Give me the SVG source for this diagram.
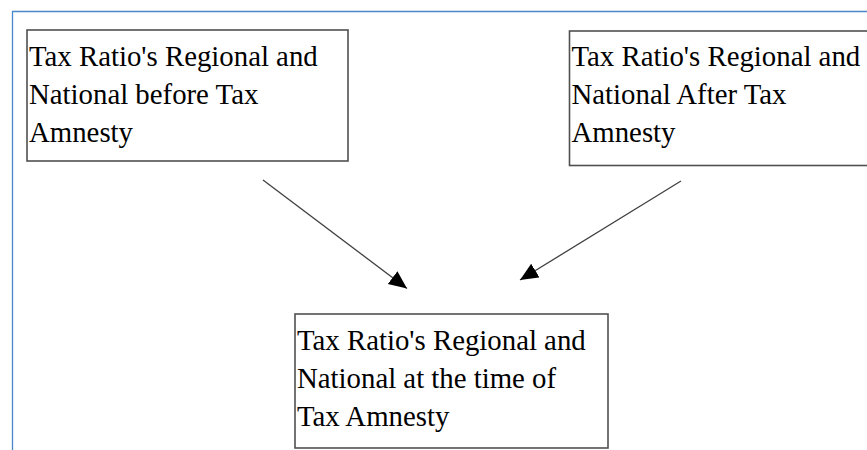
<svg xmlns="http://www.w3.org/2000/svg" width="867" height="450" viewBox="0 0 867 450">
<style>
.box{fill:#fff;stroke:#505050;stroke-width:1.6}
.t{font-family:"Liberation Serif","Times New Roman",serif;font-size:28.8px;fill:#000}
.c{stroke:#404040;stroke-width:1.3;fill:none}
</style>
<defs>
<marker id="ah" markerUnits="userSpaceOnUse" markerWidth="19" markerHeight="17" refX="18" refY="8" orient="auto">
<path d="M0,0 L18,8 L0,16 Z" fill="#000"/>
</marker>
</defs>
<rect width="867" height="450" fill="#fff"/>
<path d="M12.5,450 V11.5 H867" fill="none" stroke="#4a88cc" stroke-width="1.3"/>
<g id="node-before">
<rect class="box" x="27" y="30" width="321" height="131"/>
<text class="t" x="29" y="66">Tax Ratio's Regional and</text>
<text class="t" x="29" y="104">National before Tax</text>
<text class="t" x="29" y="142">Amnesty</text>
</g>
<g id="node-after">
<rect class="box" x="569.5" y="31" width="310" height="134.5"/>
<text class="t" x="571.5" y="66">Tax Ratio's Regional and</text>
<text class="t" x="571.5" y="104">National After Tax</text>
<text class="t" x="571.5" y="142">Amnesty</text>
</g>
<g id="node-during">
<rect class="box" x="295" y="314" width="313" height="134"/>
<text class="t" x="297" y="350">Tax Ratio's Regional and</text>
<text class="t" x="297" y="388">National at the time of</text>
<text class="t" x="297" y="426">Tax Amnesty</text>
</g>
<g id="connectors">
<line class="c" x1="263" y1="180" x2="407" y2="288.5" marker-end="url(#ah)"/>
<line class="c" x1="681" y1="181" x2="520" y2="280" marker-end="url(#ah)"/>
</g>
</svg>
